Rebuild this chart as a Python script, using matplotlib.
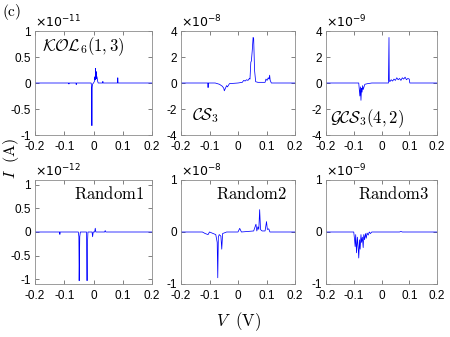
import matplotlib
matplotlib.use("Agg")
import matplotlib.pyplot as plt
import numpy as np

plt.rcParams['font.family'] = ['Liberation Sans', 'DejaVu Sans']
plt.rcParams['axes.unicode_minus'] = False

# current traces, values in units of the panel's 10^exp factor
kol_v = [-0.2, -0.085, -0.084, -0.083, -0.06, -0.059, -0.058, -0.008, -0.006,
         -0.0055, -0.005, -0.003, 0.0, 0.003, 0.005, 0.006, 0.007, 0.008, 0.009,
         0.010, 0.012, 0.014, 0.016, 0.031, 0.032, 0.033, 0.082, 0.083, 0.084, 0.2]
kol_i = [0, 0, -0.02, 0, 0, -0.03, 0, 0, -0.1, -0.82, -0.1, -0.02, 0, 0.03, 0.12,
         0.06, 0.28, 0.1, 0.22, 0.08, 0.12, 0.04, 0, 0, 0.03, 0, 0, 0.1, 0, 0]

cs_v = [-0.2, -0.106, -0.105, -0.104, -0.08, -0.065, -0.055, -0.05, -0.048,
        -0.046, -0.043, -0.04, -0.037, -0.03, 0.0, 0.015, 0.02, 0.025, 0.03,
        0.035, 0.04, 0.042, 0.045, 0.047, 0.05, 0.053, 0.055, 0.058, 0.062,
        0.07, 0.095, 0.098, 0.102, 0.106, 0.109, 0.111, 0.113, 0.117, 0.2]
cs_i = [0, 0, -0.35, 0, 0, -0.1, -0.25, -0.4, -0.6, -0.5, -0.35, -0.2, -0.3,
        -0.05, 0, 0.05, 0.2, 0.15, 0.25, 0.2, 0.35, 0.3, 1.6, 1.7, 2.5, 3.5,
        3.4, 1.0, 0.1, 0.05, 0.05, 0.3, 0.2, 0.4, 0.3, 0.6, 0.2, 0, 0]

gcs_v = [-0.2, -0.082, -0.08, -0.078, -0.076, -0.074, -0.072, -0.07, -0.068,
         -0.066, -0.06, -0.05, -0.035, 0.025, 0.027, 0.028, 0.03, 0.035, 0.04,
         0.045, 0.05, 0.055, 0.06, 0.065, 0.07, 0.075, 0.08, 0.085, 0.09,
         0.095, 0.1, 0.102, 0.2]
gcs_i = [0, 0, -0.5, -1.0, -0.3, -1.33, -0.4, -0.7, -0.2, -0.5, -0.1, -0.05, 0,
         0, 3.5, 0.2, 0.1, 0.25, 0.15, 0.3, 0.2, 0.4, 0.25, 0.35, 0.2, 0.4,
         0.3, 0.45, 0.25, 0.35, 0.3, 0, 0]

r1_v = [-0.2, -0.116, -0.115, -0.114, -0.052, -0.05, -0.049, -0.048, -0.047,
        -0.045, -0.024, -0.022, -0.021, -0.019, -0.005, -0.003, -0.001, 0.004,
        0.006, 0.008, 0.038, 0.04, 0.042, 0.2]
r1_i = [0, 0, -0.05, 0, 0, -0.1, -1.03, -0.6, -0.1, 0, 0, -1.03, -0.3, 0, 0,
        -0.1, 0, 0, 0.08, 0, 0, 0.03, 0, 0]

r2_v = [-0.2, -0.125, -0.115, -0.105, -0.1, -0.078, -0.073, -0.071, -0.069,
        -0.066, -0.06, -0.057, -0.054, -0.04, 0.0, 0.006, 0.012, 0.055, 0.063,
        0.066, 0.07, 0.073, 0.076, 0.079, 0.082, 0.085, 0.095, 0.1, 0.103,
        0.108, 0.112, 0.2]
r2_i = [0, 0, -0.03, -0.05, 0, -0.05, -0.2, -0.88, -0.1, -0.05, -0.08, -0.33,
        -0.03, 0, 0, 0.07, 0, 0.02, 0.15, 0.02, 0.1, 0.05, 0.43, 0.05, 0.03,
        0.02, 0.02, 0.2, 0.05, 0.06, 0, 0]

r3_v = [-0.2, -0.1, -0.097, -0.095, -0.093, -0.09, -0.087, -0.084, -0.082,
        -0.079, -0.077, -0.074, -0.072, -0.069, -0.066, -0.064, -0.061,
        -0.058, -0.055, -0.052, -0.048, -0.044, -0.04, -0.035, 0.065, 0.07,
        0.075, 0.2]
r3_i = [0, 0, -0.15, -0.28, -0.05, -0.4, -0.1, -0.3, -0.5, -0.15, -0.33, -0.05,
        -0.2, -0.1, -0.3, -0.05, -0.15, -0.03, -0.12, -0.02, -0.06, 0, -0.03,
        0, 0, 0.01, 0, 0]

panels = [
    (kol_v, kol_i, -11, 1, [-1, -0.5, 0, 0.5, 1], r"$\mathcal{KOL}_6(1,3)$", 'tl'),
    (cs_v, cs_i, -8, 4, [-4, -2, 0, 2, 4], r"$\mathcal{CS}_3$", 'bl'),
    (gcs_v, gcs_i, -9, 4, [-4, -2, 0, 2, 4], r"$\mathcal{GCS}_3(4,2)$", 'bl2'),
    (r1_v, r1_i, -12, 1.1, [-1, -0.5, 0, 0.5, 1], r"$\mathrm{Random1}$", 'tr'),
    (r2_v, r2_i, -8, 1, [-1, 0, 1], r"$\mathrm{Random2}$", 'tr'),
    (r3_v, r3_i, -9, 1, [-1, 0, 1], r"$\mathrm{Random3}$", 'tr'),
]

W, H = 450, 337
lefts = [35, 181, 326]
widths = [117, 114, 111]
tops = [31, 180]
h = 104

fig = plt.figure(figsize=(4.5, 3.37), dpi=100)

for k, (v, i, ex, lim, yt, lab, where) in enumerate(panels):
    r, c = divmod(k, 3)
    ax = fig.add_axes([lefts[c] / W, (H - tops[r] - h) / H, widths[c] / W, h / H])
    ax.plot(v, i, color='b', lw=0.55)
    ax.set_xlim(-0.2, 0.2)
    ax.set_ylim(-lim if lim != 1.1 else -1.1, lim)
    ax.set_xticks([-0.2, -0.1, 0, 0.1, 0.2])
    ax.set_xticklabels(['-0.2', '-0.1', '0', '0.1', '0.2'])
    ax.set_yticks(yt)
    ax.set_yticklabels([('%g' % t) for t in yt])
    ax.tick_params(direction='in', length=3, width=0.5, labelsize=8.5,
                   top=True, right=True, color='0.3')
    ax.tick_params(axis='x', pad=4)
    ax.tick_params(axis='y', pad=3)
    for s in ax.spines.values():
        s.set_color('0.55')
        s.set_linewidth(0.6)
    ax.text(0.0, 1.01, r"$\times10^{%d}$" % ex, transform=ax.transAxes,
            fontsize=9, ha='left', va='bottom', math_fontfamily='dejavusans')
    if where == 'tl':
        ax.text(0.06, 0.85, lab, transform=ax.transAxes, fontsize=12,
                ha='left', va='center', math_fontfamily='cm')
    elif where == 'bl':
        ax.text(0.1, 0.19, lab, transform=ax.transAxes, fontsize=12,
                ha='left', va='center', math_fontfamily='cm')
    elif where == 'bl2':
        ax.text(0.04, 0.16, lab, transform=ax.transAxes, fontsize=12,
                ha='left', va='center', math_fontfamily='cm')
    else:
        ax.text(0.93, 0.87, lab, transform=ax.transAxes, fontsize=12,
                ha='right', va='center', math_fontfamily='cm')

fig.text(0.005, 0.965, r"$\mathrm{(c)}$", fontsize=11, ha='left', va='center',
         math_fontfamily='cm')
fig.text(0.024, 0.53, r"$I\ \ \mathrm{(A)}$", fontsize=11.5, rotation=90,
         ha='center', va='center', math_fontfamily='cm')
fig.text(0.53, 0.047, r"$V\ \ \mathrm{(V)}$", fontsize=12, ha='center',
         va='center', math_fontfamily='cm')

fig.savefig("out.png", dpi=100)
